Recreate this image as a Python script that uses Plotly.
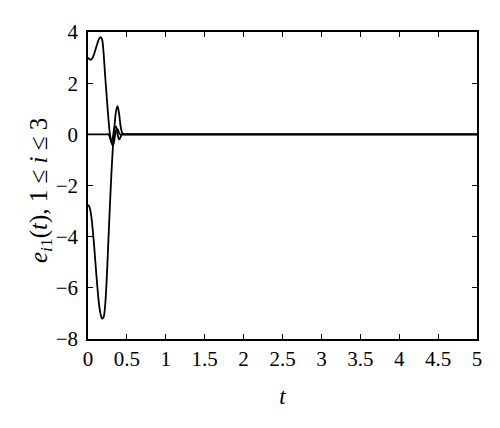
import plotly.graph_objects as go

t = [0.0, 0.02, 0.04, 0.06, 0.08, 0.10, 0.12, 0.14, 0.16, 0.18, 0.20, 0.22, 0.24,
     0.26, 0.28, 0.30, 0.32, 0.34, 0.36, 0.38, 0.40, 0.42, 0.44, 0.46, 0.50,
     1.0, 2.0, 3.0, 4.0, 5.0]

e11 = [3.0, 2.93, 2.92, 3.0, 3.15, 3.35, 3.55, 3.72, 3.8, 3.72, 3.2, 2.3, 1.5,
       0.7, 0.05, -0.3, -0.45, -0.2, 0.15, 0.2, 0.05, -0.02, 0.0, 0.0, 0.0,
       0.0, 0.0, 0.0, 0.0, 0.0]

e21 = [-2.75, -2.85, -3.15, -3.7, -4.4, -5.2, -5.95, -6.6, -7.0, -7.2, -7.15, -6.7, -5.7,
       -4.3, -2.9, -1.6, -0.5, 0.3, 0.9, 1.1, 0.8, 0.3, 0.05, 0.0, 0.0,
       0.0, 0.0, 0.0, 0.0, 0.0]

e31 = [0.0, 0.0, 0.0, 0.0, 0.0, 0.0, 0.0, 0.0, 0.0, 0.0, 0.0, 0.0, 0.0,
       0.0, -0.1, -0.3, -0.1, 0.25, 0.3, 0.0, -0.2, -0.1, 0.0, 0.0, 0.0,
       0.0, 0.0, 0.0, 0.0, 0.0]

x_ticks = [0, 0.5, 1, 1.5, 2, 2.5, 3, 3.5, 4, 4.5, 5]
x_tick_labels = ["0", "0.5", "1", "1.5", "2", "2.5", "3", "3.5", "4", "4.5", "5"]
y_ticks = [-8, -6, -4, -2, 0, 2, 4]
y_tick_labels = ["\u22128", "\u22126", "\u22124", "\u22122", "0", "2", "4"]

fig = go.Figure()
for ys in (e11, e21, e31):
    fig.add_trace(go.Scatter(x=t, y=ys, mode="lines",
                             line=dict(color="black", width=1.8, shape="spline", smoothing=0.8),
                             showlegend=False, hoverinfo="skip"))

font = "Liberation Serif, Times New Roman, serif"
axis_common = dict(showgrid=False, zeroline=False, showline=True, linecolor="black",
                   linewidth=1.5, mirror="ticks", ticks="inside", ticklen=5,
                   tickwidth=1.2, tickcolor="black", automargin=False,
                   tickfont=dict(family=font, size=21, color="black"))

fig.update_xaxes(range=[0, 5], tickvals=x_ticks, ticktext=x_tick_labels,
                 title=dict(text="<i>t</i>", font=dict(family=font, size=23, color="black"),
                            standoff=18),
                 **axis_common)
fig.update_yaxes(range=[-8, 4], tickvals=y_ticks, ticktext=y_tick_labels,
                 ticklabelstandoff=4, **axis_common)

fig.add_annotation(text="<i>e</i><sub><i>i</i>1</sub>(<i>t</i>), 1 \u2264 <i>i</i> \u2264 3",
                   xref="paper", yref="paper", x=(32 - 80) / 389, y=(339 - 191) / 307,
                   xanchor="center", yanchor="middle", textangle=-90, showarrow=False,
                   font=dict(family=font, size=25, color="black"))

fig.update_layout(width=500, height=428, margin=dict(l=80, r=31, t=24, b=97),
                  paper_bgcolor="white", plot_bgcolor="white")

fig.write_html("out.html")
